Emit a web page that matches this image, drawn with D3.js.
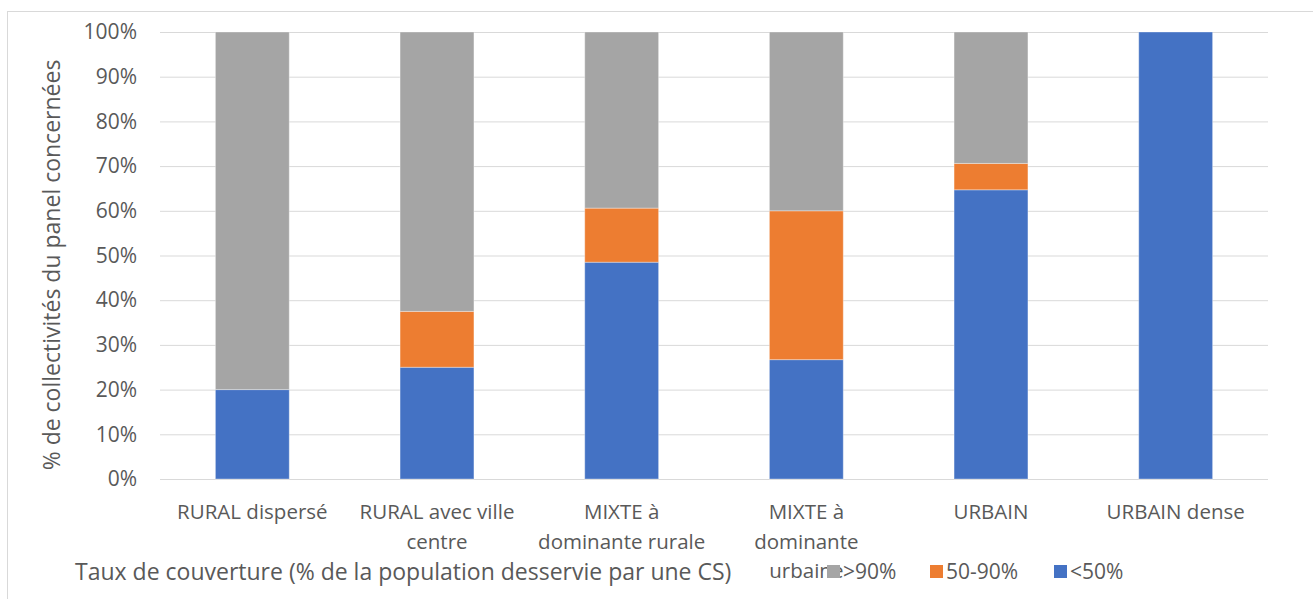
<!DOCTYPE html>
<html>
<head>
<meta charset="utf-8">
<script src="https://cdn.jsdelivr.net/npm/d3@7"></script>
<style>
  html, body { margin: 0; padding: 0; background: #fff; }
  svg text { font-family: "Open Sans", "Noto Sans", sans-serif; fill: #595959; }
</style>
</head>
<body>
<svg id="chart" width="1313" height="599"></svg>
<script>
// Categories (each label split on lines as drawn under the axis)
const categories = ["RURAL dispersé", "RURAL avec ville centre", "MIXTE à dominante rurale",
                    "MIXTE à dominante urbaine", "URBAIN", "URBAIN dense"];
const categoryLines = [["RURAL dispersé"], ["RURAL avec ville", "centre"], ["MIXTE à", "dominante rurale"],
                       ["MIXTE à", "dominante", "urbaine"], ["URBAIN"], ["URBAIN dense"]];
// Share of collectivities per coverage class (%)
const below50 = [20.0, 25.0, 48.5, 26.7, 64.7, 100.0];
const from50to90 = [0.0, 12.5, 12.1, 33.3, 5.9, 0.0];
const above90 = [80.0, 62.5, 39.4, 40.0, 29.4, 0.0];
const seriesNames = ["<50%", "50-90%", ">90%"];
const seriesColors = ["#4472C4", "#ED7D31", "#A5A5A5"];
const yTicks = [0, 10, 20, 30, 40, 50, 60, 70, 80, 90, 100];
const yTitle = "% de collectivités du panel concernées";
const legendTitle = "Taux de couverture (% de la population desservie par une CS)";

const svg = d3.select("#chart");

// Outer chart frame
svg.append("rect").attr("x", 7.5).attr("y", 11.5).attr("width", 1320).attr("height", 600)
  .attr("fill", "none").attr("stroke", "#D9D9D9").attr("stroke-width", 1);

const plot = { left: 160, right: 1268, top: 32, bottom: 479 };

const x = d3.scaleBand().domain(categories).range([plot.left, plot.right]).paddingInner(0.6).paddingOuter(0.3);
const y = d3.scaleLinear().domain([0, 100]).range([plot.bottom, plot.top]);

// Gridlines
svg.append("g").selectAll("line").data(yTicks).join("line")
  .attr("x1", plot.left).attr("x2", plot.right)
  .attr("y1", d => y(d) + 0.5).attr("y2", d => y(d) + 0.5)
  .attr("stroke", "#D9D9D9").attr("stroke-width", 1);

// Y axis tick labels
const yAxis = d3.axisLeft(y).tickValues(yTicks).tickFormat(d => d + "%").tickSize(0).tickPadding(23);
const yg = svg.append("g").attr("transform", `translate(${plot.left},0)`).call(yAxis);
yg.select(".domain").remove();
yg.selectAll("text").attr("font-size", 21).attr("fill", "#595959")
  .style("font-family", "'Open Sans', 'Noto Sans', sans-serif");

// Stacked bars
const rows = categories.map((c, i) => ({ cat: c, "<50%": below50[i], "50-90%": from50to90[i], ">90%": above90[i] }));
const stack = d3.stack().keys(seriesNames)(rows);
const color = d3.scaleOrdinal().domain(seriesNames).range(seriesColors);

svg.append("g").selectAll("g").data(stack).join("g")
  .attr("fill", d => color(d.key))
  .selectAll("rect").data(d => d.filter(s => s[1] - s[0] > 0)).join("rect")
  .attr("x", d => x(d.data.cat))
  .attr("width", x.bandwidth())
  .attr("y", d => y(d[1]))
  .attr("height", d => y(d[0]) - y(d[1]))
  .attr("stroke", "#fff").attr("stroke-opacity", 0.35).attr("stroke-width", 1);

// Category labels
const catG = svg.append("g");
categories.forEach((c, i) => {
  const t = catG.append("text").attr("x", x(c) + x.bandwidth() / 2).attr("y", 519)
    .attr("text-anchor", "middle").attr("font-size", 20.5);
  categoryLines[i].forEach((line, k) => {
    t.append("tspan").attr("x", x(c) + x.bandwidth() / 2).attr("dy", k === 0 ? 0 : 29.5).text(line);
  });
});

// Y axis title
svg.append("text").attr("transform", `translate(60,265) rotate(-90)`)
  .attr("text-anchor", "middle").attr("font-size", 23).text(yTitle);

// Legend
svg.append("text").attr("x", 75).attr("y", 580).attr("font-size", 23).text(legendTitle);
const legendItems = [
  { name: ">90%", color: seriesColors[2], x: 827 },
  { name: "50-90%", color: seriesColors[1], x: 930 },
  { name: "<50%", color: seriesColors[0], x: 1054 }
];
const lg = svg.append("g");
legendItems.forEach(it => {
  lg.append("rect").attr("x", it.x).attr("y", 565).attr("width", 13).attr("height", 13).attr("fill", it.color);
  lg.append("text").attr("x", it.x + 16).attr("y", 579).attr("font-size", 21).text(it.name);
});
</script>
</body>
</html>
